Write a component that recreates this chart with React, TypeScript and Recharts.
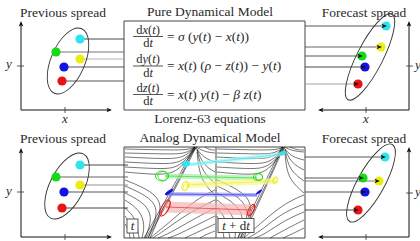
import React from 'react';
import { ScatterChart, Scatter, XAxis, YAxis, ReferenceArea, ReferenceLine } from 'recharts';

const CHART_W = 420;
const CHART_H = 241;
const FONT = '"Liberation Serif", "Times New Roman", serif';
const INK = '#2a2a2a';

// ensemble members, in order: cyan, green, yellow, blue, red
const memberNames = ['cyan', 'green', 'yellow', 'blue', 'red'];
const memberColors = ['#30e4ef', '#14dc14', '#ecec12', '#1212e6', '#ea1212'];
const memberLight = ['#a6f3f8', '#a8f0a8', '#f6f690', '#9a9af4', '#f7b4b4'];

// members of each spread (data space == drawing space of the diagram)
const prevTop = [{ x: 80, y: 39 }, { x: 56, y: 52 }, { x: 80, y: 59 }, { x: 64, y: 67 }, { x: 62, y: 81 }];
const fcTop = [{ x: 386, y: 26 }, { x: 362, y: 56 }, { x: 381, y: 47 }, { x: 365, y: 67 }, { x: 358, y: 84 }];
const prevBot = [{ x: 80, y: 165 }, { x: 56, y: 177 }, { x: 80, y: 185 }, { x: 64, y: 192 }, { x: 62, y: 208 }];
const fcBot = [{ x: 385, y: 157 }, { x: 363, y: 178 }, { x: 379, y: 181 }, { x: 365, y: 192 }, { x: 358, y: 210 }];

// grey level of the link line of every member
const linkPrevTop = ['#333', '#666', '#aaa', '#444', '#444'];
const linkFcTop = ['#444', '#444', '#555', '#333', '#999'];
const linkPrevBot = ['#333', '#555', '#888', '#444', '#333'];
const linkFcBot = ['#444', '#444', '#666', '#444', '#333'];

// spread ellipses (centres)
const spreadCentres = [{ x: 68, y: 61 }, { x: 370, y: 57 }, { x: 67, y: 186 }, { x: 371, y: 183 }];
const spreadGeom = [
  { rx: 17, ry: 35, rot: 23 },
  { rx: 13, ry: 48, rot: 27 },
  { rx: 17, ry: 36, rot: 27 },
  { rx: 13.5, ry: 44, rot: 29 },
];

// boxes
const pureBox = { x1: 124, x2: 305, y1: 21, y2: 110 };
const analogBox = { x1: 124, x2: 305, y1: 147, y2: 238 };
const analogSplit = 216;

// axes of the four spread panels
const axisSegments = [
  [{ x: 21, y: 110 }, { x: 21, y: 23 }], [{ x: 21, y: 110 }, { x: 110, y: 110 }],
  [{ x: 409, y: 110 }, { x: 409, y: 23 }], [{ x: 409, y: 110 }, { x: 320, y: 110 }],
  [{ x: 21, y: 237 }, { x: 21, y: 150 }], [{ x: 21, y: 237 }, { x: 110, y: 237 }],
  [{ x: 409, y: 237 }, { x: 409, y: 149 }], [{ x: 409, y: 237 }, { x: 320, y: 237 }],
];
const tickSegments = [
  [{ x: 17, y: 66 }, { x: 24, y: 66 }], [{ x: 65, y: 107 }, { x: 65, y: 113 }],
  [{ x: 406, y: 66 }, { x: 413, y: 66 }], [{ x: 366, y: 107 }, { x: 366, y: 113 }],
  [{ x: 17, y: 192 }, { x: 24, y: 192 }], [{ x: 65, y: 234 }, { x: 65, y: 240 }],
  [{ x: 406, y: 193 }, { x: 413, y: 193 }], [{ x: 366, y: 234 }, { x: 366, y: 240 }],
];
// arrow tips: position and pointing angle (deg, 0 = right)
const axisArrows = [
  { x: 21, y: 21, a: -90 }, { x: 112, y: 110, a: 0 },
  { x: 409, y: 21, a: -90 }, { x: 318, y: 110, a: 180 },
  { x: 21, y: 148, a: -90 }, { x: 112, y: 237, a: 0 },
  { x: 409, y: 147, a: -90 }, { x: 318, y: 237, a: 180 },
];

// text
const titles = [
  { x: 63, y: 16.5, text: 'Previous spread' },
  { x: 210, y: 16, text: 'Pure Dynamical Model' },
  { x: 364, y: 16.5, text: 'Forecast spread' },
  { x: 210, y: 122.5, text: 'Lorenz-63 equations' },
  { x: 63, y: 142.5, text: 'Previous spread' },
  { x: 210, y: 142, text: 'Analog Dynamical Model' },
  { x: 364, y: 142.5, text: 'Forecast spread' },
];
const axisLetters = [
  { x: 9, y: 68, text: 'y' }, { x: 65, y: 123, text: 'x' },
  { x: 418, y: 69, text: 'y' }, { x: 366, y: 123, text: 'x' },
  { x: 9, y: 195, text: 'y' }, { x: 418, y: 196, text: 'y' },
];
const equations = [
  { x: 133, y: 36.5, num: 'dx(t)', den: 'dt', rhs: '= σ (y(t) − x(t))' },
  { x: 133, y: 66, num: 'dy(t)', den: 'dt', rhs: '= x(t) (ρ − z(t)) − y(t)' },
  { x: 133, y: 94.5, num: 'dz(t)', den: 'dt', rhs: '= x(t) y(t) − β z(t)' },
];
const boxLabels = [
  { x: 132.5, y: 230, text: 't' },
  { x: 236, y: 229.5, text: 't + dt' },
];
const boxLabelWidths = [11, 36];

// streamlines of the analog panel at time t
const flowLeft: { x: number; y: number }[][] = [
  [{ x: 125, y: 149 }, { x: 165, y: 150 }, { x: 188, y: 150 }, { x: 195, y: 147 }],
  [{ x: 125, y: 153 }, { x: 165, y: 154 }, { x: 186, y: 154 }, { x: 195, y: 147 }],
  [{ x: 125, y: 157 }, { x: 165, y: 159 }, { x: 184, y: 158 }, { x: 195, y: 147 }],
  [{ x: 125, y: 162 }, { x: 162, y: 164 }, { x: 182, y: 163 }, { x: 195, y: 148 }],
  [{ x: 125, y: 167 }, { x: 160, y: 169 }, { x: 180, y: 168 }, { x: 195, y: 148 }],
  [{ x: 125, y: 172 }, { x: 158, y: 175 }, { x: 178, y: 173 }, { x: 196, y: 148 }],
  [{ x: 125, y: 180 }, { x: 150, y: 190 }, { x: 165, y: 205 }, { x: 150, y: 238 }],
  [{ x: 125, y: 186 }, { x: 148, y: 196 }, { x: 160, y: 210 }, { x: 148, y: 238 }],
  [{ x: 125, y: 193 }, { x: 145, y: 203 }, { x: 153, y: 218 }, { x: 145, y: 238 }],
  [{ x: 125, y: 200 }, { x: 140, y: 210 }, { x: 145, y: 225 }, { x: 142, y: 238 }],
  [{ x: 125, y: 208 }, { x: 136, y: 218 }, { x: 139, y: 238 }],
  [{ x: 125, y: 216 }, { x: 132, y: 226 }, { x: 134, y: 238 }],
  [{ x: 125, y: 224 }, { x: 129, y: 230 }, { x: 130, y: 238 }],
  [{ x: 196, y: 147 }, { x: 205, y: 152 }, { x: 215, y: 153 }],
  [{ x: 196, y: 148 }, { x: 204, y: 158 }, { x: 215, y: 162 }],
  [{ x: 197, y: 149 }, { x: 203, y: 165 }, { x: 215, y: 172 }],
  [{ x: 197, y: 150 }, { x: 202, y: 172 }, { x: 215, y: 183 }],
  [{ x: 197, y: 152 }, { x: 200, y: 180 }, { x: 215, y: 195 }],
  [{ x: 205, y: 147 }, { x: 210, y: 150 }, { x: 215, y: 150 }],
  [{ x: 215, y: 190 }, { x: 195, y: 200 }, { x: 170, y: 222 }, { x: 150, y: 238 }],
  [{ x: 215, y: 200 }, { x: 190, y: 212 }, { x: 165, y: 230 }, { x: 153, y: 238 }],
  [{ x: 215, y: 208 }, { x: 192, y: 220 }, { x: 170, y: 233 }, { x: 158, y: 238 }],
  [{ x: 215, y: 216 }, { x: 195, y: 226 }, { x: 175, y: 236 }, { x: 168, y: 238 }],
  [{ x: 215, y: 224 }, { x: 200, y: 231 }, { x: 185, y: 238 }],
  [{ x: 215, y: 231 }, { x: 205, y: 235 }, { x: 200, y: 238 }],
  [{ x: 146, y: 238 }, { x: 162, y: 210 }, { x: 180, y: 178 }, { x: 195, y: 147 }],
  [{ x: 148, y: 238 }, { x: 164, y: 209 }, { x: 181, y: 178 }, { x: 196, y: 147 }],
  [{ x: 144, y: 238 }, { x: 160, y: 210 }, { x: 178, y: 178 }, { x: 194, y: 147 }],
];
// streamlines of the analog panel at time t + dt
const flowRight: { x: number; y: number }[][] = [
  [{ x: 217, y: 149 }, { x: 255, y: 150 }, { x: 277, y: 150 }, { x: 283, y: 147 }],
  [{ x: 217, y: 153 }, { x: 255, y: 154 }, { x: 275, y: 154 }, { x: 283, y: 147 }],
  [{ x: 217, y: 157 }, { x: 255, y: 159 }, { x: 273, y: 158 }, { x: 283, y: 148 }],
  [{ x: 217, y: 162 }, { x: 252, y: 164 }, { x: 271, y: 163 }, { x: 284, y: 148 }],
  [{ x: 217, y: 167 }, { x: 250, y: 169 }, { x: 269, y: 168 }, { x: 284, y: 149 }],
  [{ x: 217, y: 172 }, { x: 248, y: 175 }, { x: 267, y: 173 }, { x: 284, y: 150 }],
  [{ x: 217, y: 180 }, { x: 240, y: 190 }, { x: 255, y: 205 }, { x: 244, y: 238 }],
  [{ x: 217, y: 186 }, { x: 238, y: 196 }, { x: 250, y: 210 }, { x: 241, y: 238 }],
  [{ x: 217, y: 193 }, { x: 235, y: 203 }, { x: 245, y: 218 }, { x: 238, y: 238 }],
  [{ x: 217, y: 200 }, { x: 230, y: 210 }, { x: 236, y: 225 }, { x: 235, y: 238 }],
  [{ x: 217, y: 208 }, { x: 226, y: 218 }, { x: 230, y: 238 }],
  [{ x: 217, y: 216 }, { x: 222, y: 226 }, { x: 224, y: 238 }],
  [{ x: 284, y: 147 }, { x: 293, y: 151 }, { x: 304, y: 152 }],
  [{ x: 284, y: 148 }, { x: 292, y: 157 }, { x: 304, y: 160 }],
  [{ x: 285, y: 149 }, { x: 291, y: 163 }, { x: 304, y: 170 }],
  [{ x: 285, y: 150 }, { x: 289, y: 170 }, { x: 304, y: 181 }],
  [{ x: 285, y: 152 }, { x: 287, y: 178 }, { x: 304, y: 193 }],
  [{ x: 290, y: 147 }, { x: 297, y: 150 }, { x: 304, y: 150 }],
  [{ x: 304, y: 195 }, { x: 285, y: 203 }, { x: 262, y: 222 }, { x: 244, y: 238 }],
  [{ x: 304, y: 204 }, { x: 282, y: 213 }, { x: 262, y: 230 }, { x: 248, y: 238 }],
  [{ x: 304, y: 212 }, { x: 285, y: 220 }, { x: 265, y: 234 }, { x: 255, y: 238 }],
  [{ x: 304, y: 220 }, { x: 288, y: 228 }, { x: 270, y: 238 }],
  [{ x: 304, y: 228 }, { x: 292, y: 234 }, { x: 283, y: 238 }],
  [{ x: 240, y: 238 }, { x: 254, y: 210 }, { x: 269, y: 178 }, { x: 283, y: 147 }],
  [{ x: 242, y: 238 }, { x: 256, y: 209 }, { x: 270, y: 178 }, { x: 284, y: 147 }],
  [{ x: 238, y: 238 }, { x: 252, y: 210 }, { x: 267, y: 178 }, { x: 282, y: 147 }],
];

// analog transport bands (state at t -> analog successor at t+dt), per member
const bandFrom = [{ x: 186, y: 165 }, { x: 165, y: 176 }, { x: 186, y: 185 }, { x: 166, y: 194 }, { x: 166, y: 207 }];
const bandTo = [{ x: 283, y: 154 }, { x: 257, y: 178 }, { x: 275, y: 181 }, { x: 257, y: 195 }, { x: 251, y: 210 }];
const bandWidth = [4, 5, 6, 4, 11];

// analog neighbourhoods drawn in the panels
const analogMarksT = [{ x: 186, y: 164 }, { x: 162, y: 176 }, { x: 185, y: 186 }, { x: 169, y: 192 }, { x: 165, y: 208 }];
const analogMarksTdt = [{ x: 283, y: 153 }, { x: 258, y: 177 }, { x: 275, y: 180 }, { x: 259, y: 192 }, { x: 251, y: 210 }];
const markGeom = [
  { rx: 4, ry: 2.5, rot: -20, fill: true },
  { rx: 6.5, ry: 5, rot: 0, fill: false },
  { rx: 3, ry: 5, rot: 20, fill: false },
  { rx: 4.5, ry: 1.1, rot: -35, fill: true },
  { rx: 3.5, ry: 9, rot: 28, fill: false },
];

const Empty = () => <g />;

function mathRuns(s: string) {
  const out: { t: string; it: boolean }[] = [];
  let buf = '';
  let cur: boolean | null = null;
  for (const ch of s) {
    const isIt = /[xyztσρβ]/.test(ch);
    if (cur === null) cur = isIt;
    if (isIt !== cur) {
      out.push({ t: buf, it: cur });
      buf = '';
      cur = isIt;
    }
    buf += ch;
  }
  if (buf) out.push({ t: buf, it: !!cur });
  return out.map((r, i) => (
    <tspan key={i} fontStyle={r.it ? 'italic' : 'normal'}>{r.t}</tspan>
  ));
}

const Dot = (color: string) => (p: any) => <circle cx={p.cx} cy={p.cy} r={4.6} fill={color} />;

const ArrowTip = (p: any) => {
  const a = p.payload.a ?? 0;
  return (
    <path
      d="M0,0 L-5.5,-2.3 L-4.2,0 L-5.5,2.3 Z"
      fill="#111"
      transform={`translate(${p.cx},${p.cy}) rotate(${a})`}
    />
  );
};

const seg = (a: { x: number; y: number }, b: { x: number; y: number }) => [a, b];

export default function App() {
  const links: React.ReactNode[] = [];
  memberNames.forEach((m, i) => {
    links.push(
      <ReferenceLine key={`lpt${m}`} segment={seg(prevTop[i], { x: pureBox.x1, y: prevTop[i].y })} stroke={linkPrevTop[i]} strokeWidth={0.9} ifOverflow="visible" />,
      <ReferenceLine key={`lft${m}`} segment={seg({ x: pureBox.x2, y: fcTop[i].y }, fcTop[i])} stroke={linkFcTop[i]} strokeWidth={0.9} ifOverflow="visible" />,
      <ReferenceLine key={`lpb${m}`} segment={seg(prevBot[i], { x: analogBox.x1 + 4, y: prevBot[i].y })} stroke={linkPrevBot[i]} strokeWidth={0.9} ifOverflow="visible" />,
      <ReferenceLine key={`lfb${m}`} segment={seg({ x: analogBox.x2, y: fcBot[i].y }, fcBot[i])} stroke={linkFcBot[i]} strokeWidth={0.9} ifOverflow="visible" />,
    );
  });

  const tips = [...fcTop, ...fcBot].map((p) => ({ x: p.x + 1, y: p.y, a: 0 }));

  return (
    <div style={{ position: 'absolute', left: 0, top: 0, background: '#fff' }}>
      <ScatterChart width={CHART_W} height={CHART_H} margin={{ top: 0, right: 0, bottom: 0, left: 0 }}>
        <XAxis type="number" dataKey="x" domain={[0, CHART_W]} allowDataOverflow hide />
        <YAxis type="number" dataKey="y" domain={[0, CHART_H]} reversed allowDataOverflow hide />

        {/* model boxes */}
        <ReferenceArea x1={pureBox.x1} x2={pureBox.x2} y1={pureBox.y1} y2={pureBox.y2} fill="#fff" fillOpacity={1} stroke="#444" strokeWidth={1} ifOverflow="visible" />
        <ReferenceArea x1={analogBox.x1} x2={analogBox.x2} y1={analogBox.y1} y2={analogBox.y2} fill="#fff" fillOpacity={1} stroke="#444" strokeWidth={1} ifOverflow="visible" />

        {/* streamlines */}
        {[...flowLeft, ...flowRight].map((line, i) => (
          <Scatter key={`fl${i}`} data={line} line={{ stroke: '#000', strokeWidth: 0.6, strokeOpacity: 0.9 }} lineJointType="basis" shape={Empty} isAnimationActive={false} />
        ))}

        <ReferenceLine segment={[{ x: analogSplit, y: analogBox.y1 }, { x: analogSplit, y: analogBox.y2 }]} stroke="#444" strokeWidth={1} ifOverflow="visible" />

        {/* analog transport bands */}
        {memberNames.map((m, i) => (
          <Scatter key={`bd${m}`} data={[bandFrom[i], bandTo[i]]} line={{ stroke: memberLight[i], strokeWidth: bandWidth[i], strokeOpacity: 0.7 }} shape={Empty} isAnimationActive={false} />
        ))}
        {memberNames.map((m, i) => (
          <Scatter key={`bl${m}`} data={[bandFrom[i], bandTo[i]]} line={{ stroke: memberColors[i], strokeWidth: 0.7, strokeOpacity: 0.85 }} shape={Empty} isAnimationActive={false} />
        ))}
        {memberNames.map((m, i) => (
          <Scatter key={`am${m}`} data={[analogMarksT[i], analogMarksTdt[i]]} isAnimationActive={false}
            shape={(p: any) => {
              const g = markGeom[i];
              const s = p.cx > analogSplit ? 0.7 : 1;
              return (
                <g transform={`translate(${p.cx},${p.cy}) rotate(${g.rot})`}>
                  <ellipse rx={g.rx * s} ry={g.ry * s} fill={g.fill ? memberColors[i] : 'none'} stroke={memberColors[i]} strokeWidth={0.9} />
                  {!g.fill && <ellipse rx={g.rx * s * 0.8} ry={g.ry * s * 0.9} cx={1} fill="none" stroke={memberColors[i]} strokeWidth={0.7} />}
                </g>
              );
            }} />
        ))}

        {/* time labels in framed boxes */}
        <Scatter data={boxLabels} isAnimationActive={false}
          shape={(p: any) => {
            const w = boxLabelWidths[boxLabels.indexOf(p.payload)] ?? 12;
            return (
              <g>
                <rect x={p.cx - w / 2} y={p.cy - 11} width={w} height={14} fill="#fff" stroke="#444" strokeWidth={0.9} />
                <text x={p.cx} y={p.cy} textAnchor="middle" fontFamily={FONT} fontSize={13} fill={INK} style={{ whiteSpace: 'pre' }}>{mathRuns(p.payload.text)}</text>
              </g>
            );
          }} />

        {/* link lines */}
        {links}

        {/* spread ellipses */}
        {spreadCentres.map((c, i) => (
          <Scatter key={`el${i}`} data={[c]} isAnimationActive={false}
            shape={(p: any) => (
              <ellipse cx={0} cy={0} rx={spreadGeom[i].rx} ry={spreadGeom[i].ry} fill="none" stroke="#333" strokeWidth={0.9}
                transform={`translate(${p.cx},${p.cy}) rotate(${spreadGeom[i].rot})`} />
            )} />
        ))}

        {/* members */}
        {memberNames.map((m, i) => (
          <Scatter key={`mb${m}`} data={[prevTop[i], fcTop[i], prevBot[i], fcBot[i]]} shape={Dot(memberColors[i])} isAnimationActive={false} />
        ))}
        <Scatter data={tips} shape={ArrowTip} isAnimationActive={false} />

        {/* axes */}
        {axisSegments.map((s, i) => (
          <ReferenceLine key={`ax${i}`} segment={s} stroke="#111" strokeWidth={1} ifOverflow="visible" />
        ))}
        {tickSegments.map((s, i) => (
          <ReferenceLine key={`tk${i}`} segment={s} stroke="#333" strokeWidth={0.8} ifOverflow="visible" />
        ))}
        <Scatter data={axisArrows} shape={ArrowTip} isAnimationActive={false} />

        {/* texts */}
        <Scatter data={titles} isAnimationActive={false}
          shape={(p: any) => (
            <text x={p.cx} y={p.cy} textAnchor="middle" fontFamily={FONT} fontSize={13.5} fill={INK}>{p.payload.text}</text>
          )} />
        <Scatter data={axisLetters} isAnimationActive={false}
          shape={(p: any) => (
            <text x={p.cx} y={p.cy} textAnchor="middle" fontFamily={FONT} fontSize={13} fontStyle="italic" fill={INK}>{p.payload.text}</text>
          )} />
        <Scatter data={equations} isAnimationActive={false}
          shape={(p: any) => (
            <g fontFamily={FONT} fill={INK}>
              <text x={p.cx + 15} y={p.cy - 3} textAnchor="middle" fontSize={12.5}>{mathRuns(p.payload.num)}</text>
              <line x1={p.cx} x2={p.cx + 30} y1={p.cy} y2={p.cy} stroke={INK} strokeWidth={0.8} />
              <text x={p.cx + 15} y={p.cy + 10.5} textAnchor="middle" fontSize={12.5}>{mathRuns(p.payload.den)}</text>
              <text x={p.cx + 34} y={p.cy + 4} fontSize={13.5} style={{ whiteSpace: 'pre' }}>{mathRuns(p.payload.rhs)}</text>
            </g>
          )} />
      </ScatterChart>
    </div>
  );
}
